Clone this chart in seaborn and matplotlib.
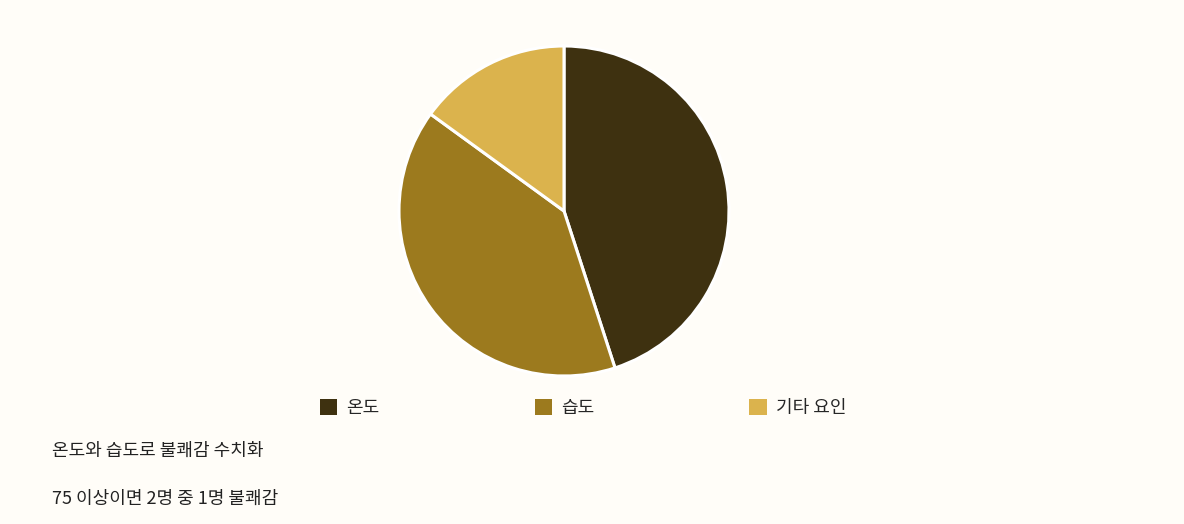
import matplotlib
matplotlib.use("Agg")
import matplotlib.pyplot as plt
import seaborn as sns
from matplotlib.patches import Patch

labels = ["온도", "습도", "기타 요인"]
shares = [45, 40, 15]
colors = ["#3E3110", "#9C7A1E", "#DBB34D"]
notes = ["온도와 습도로 불쾌감 수치화", "75 이상이면 2명 중 1명 불쾌감"]

sns.set_theme(style="white")
plt.rcParams['font.family'] = ['Noto Sans CJK KR', 'DejaVu Sans']

bg = "#FFFDF8"
fig = plt.figure(figsize=(11.84, 5.24), dpi=100, facecolor=bg)

# pie axes: center (564, 211), radius 165 px
W, H = 1184, 524
r = 165
ax = fig.add_axes([(564 - r) / W, 1 - (211 + r) / H, 2 * r / W, 2 * r / H])
ax.set_facecolor(bg)
ax.pie(shares, colors=colors, startangle=90, counterclock=False,
       wedgeprops=dict(edgecolor="white", linewidth=2.2))
ax.set_xlim(-1.0, 1.0)
ax.set_ylim(-1.0, 1.0)
ax.set_aspect("equal")
ax.axis("off")

handles = [Patch(facecolor=c, edgecolor="none") for c in colors]
fig.legend(handles, labels, loc="center", bbox_to_anchor=(583 / W, 1 - 408 / H),
           ncol=3, frameon=False, fontsize=13, handlelength=0.95, handleheight=0.95,
           handletextpad=0.5, columnspacing=8.6)

for i, t in enumerate(notes):
    fig.text(52 / W, 1 - (451 + 48 * i) / H, t, fontsize=13, color="#222222",
             ha="left", va="center")

fig.savefig("out.png", dpi=100, facecolor=bg)
